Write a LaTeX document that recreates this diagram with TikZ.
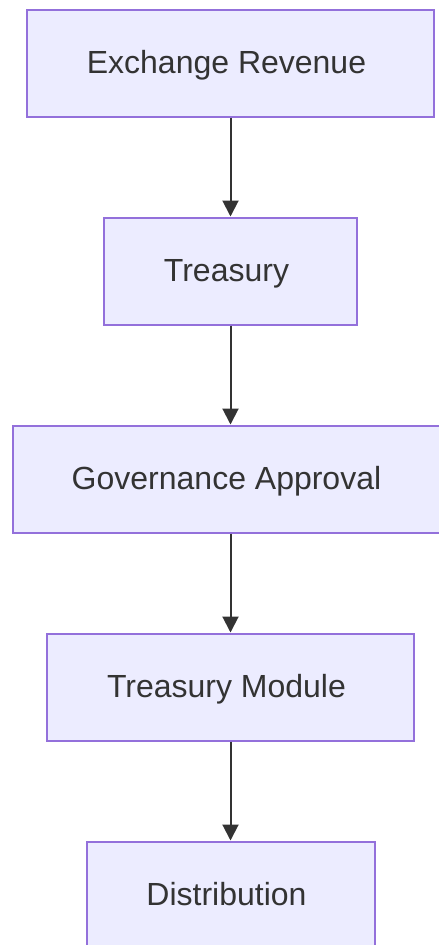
\documentclass[tikz,border=0pt]{standalone}
\usepackage{fontspec}
\setmainfont{Liberation Sans}
\usetikzlibrary{arrows.meta}
\definecolor{boxfill}{HTML}{ECECFF}
\definecolor{boxline}{HTML}{9370DB}
\definecolor{edge}{HTML}{333333}
\tikzset{
  flowbox/.style={draw=boxline, fill=boxfill, line width=2pt, rectangle,
    minimum height=107pt, inner sep=0pt, text=edge,
    text height=27pt, text depth=7pt,
    font=\fontsize{32pt}{38pt}\selectfont,
    execute at end node={\kern8pt}},
  flowedge/.style={draw=edge, line width=2pt,
    -{Triangle[length=16pt, width=16pt]}}
}
\begin{document}
\begin{tikzpicture}[x=1pt, y=-1pt]
  \useasboundingbox (0,0) rectangle (439,945);
  \node[flowbox, minimum width=407pt] (rev) at (230.5,63) {Exchange Revenue};
  \node[flowbox, minimum width=253pt] (tre) at (230.5,271) {Treasury};
  \node[flowbox, minimum width=436pt] (gov) at (230.5,479) {Governance Approval};
  \node[flowbox, minimum width=367pt] (mod) at (230.5,687) {Treasury Module};
  \node[flowbox, minimum width=288pt] (dis) at (230.5,895) {Distribution};
  \draw[flowedge] (rev) -- (tre);
  \draw[flowedge] (tre) -- (gov);
  \draw[flowedge] (gov) -- (mod);
  \draw[flowedge] (mod) -- (dis);
\end{tikzpicture}
\end{document}
